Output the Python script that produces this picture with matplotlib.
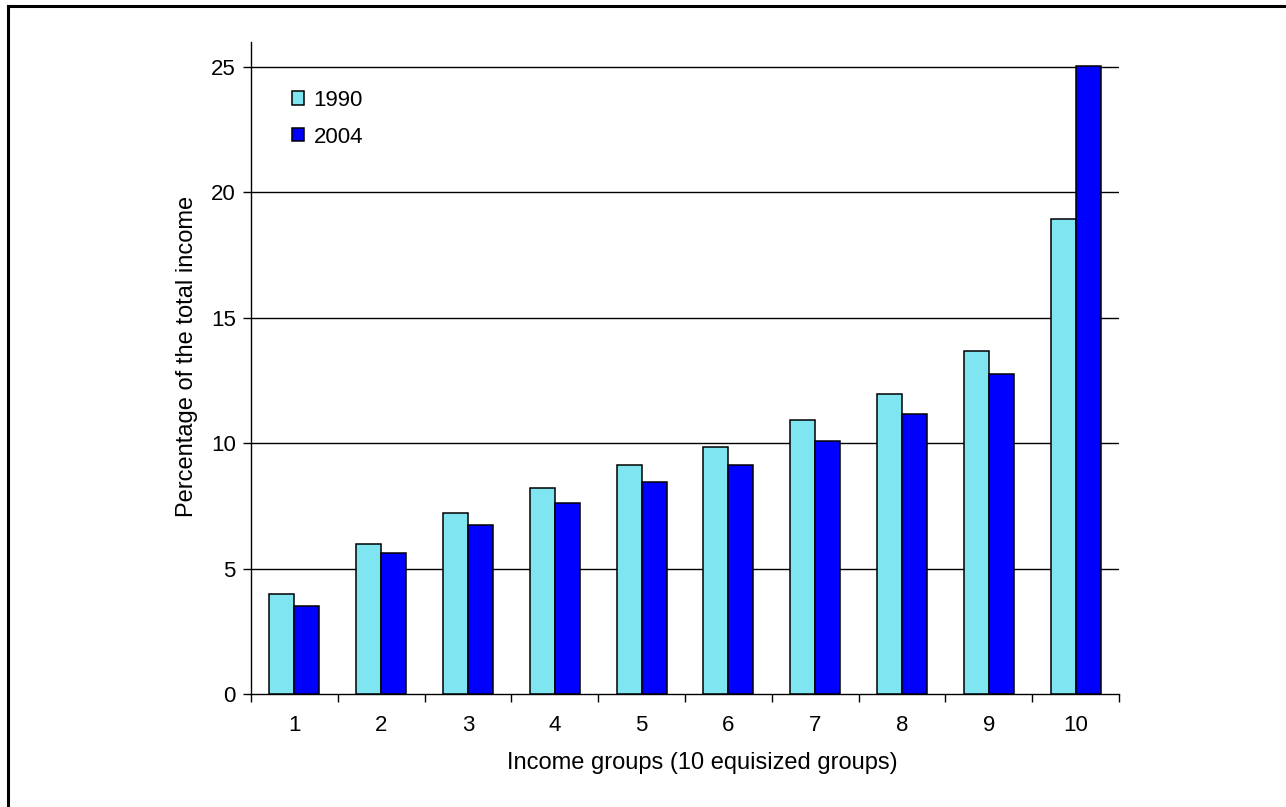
import numpy as np
import matplotlib.pyplot as plt
from matplotlib.lines import Line2D

plt.rcParams['font.family'] = ['Liberation Sans', 'DejaVu Sans']

groups = ['1', '2', '3', '4', '5', '6', '7', '8', '9', '10']
share_1990 = [4.0, 5.99, 7.22, 8.22, 9.14, 9.84, 10.92, 11.98, 13.66, 18.95]
share_2004 = [3.53, 5.61, 6.76, 7.61, 8.45, 9.15, 10.08, 11.15, 12.75, 25.05]
series_names = ['1990', '2004']

fig = plt.figure(figsize=(12.86, 8.07), dpi=100)
ax = fig.add_axes([251 / 1286, 1 - 694.3 / 807, 868 / 1286, 652.6 / 807])

x = np.arange(len(groups))
w = 0.288
ax.bar(x - w / 2, share_1990, w, color='#7fe5f0', edgecolor='black',
       linewidth=1.1, label=series_names[0], zorder=3)
ax.bar(x + w / 2, share_2004, w, color='#0000ff', edgecolor='black',
       linewidth=1.1, label=series_names[1], zorder=3)

ax.set_xlim(-0.5, len(groups) - 0.5)
ax.set_ylim(0, 26)
ax.set_yticks(np.arange(0, 26, 5))
ax.set_xticks(x)
ax.set_xticklabels(groups)
ax.set_xticks(np.arange(-0.5, len(groups), 1.0), minor=True)
ax.tick_params(axis='x', which='major', length=0, labelsize=16, pad=15)
ax.tick_params(axis='x', which='minor', length=6, width=1, direction='out')
ax.tick_params(axis='y', length=6, width=1, labelsize=16, pad=5)

for v in np.arange(5, 26, 5):
    ax.axhline(v, color='black', linewidth=1.0, zorder=1)

for s in ['top', 'right']:
    ax.spines[s].set_visible(False)
for s in ['left', 'bottom']:
    ax.spines[s].set_linewidth(1.0)

ax.set_xlabel('Income groups (10 equisized groups)', fontsize=17, labelpad=11.5)
ax.set_ylabel('Percentage of the total income', fontsize=17, labelpad=9)
ax.xaxis.label.set_x(0.5196)
ax.yaxis.label.set_y(0.518)

ax.legend(loc='upper left', bbox_to_anchor=(0.047, 0.926), frameon=False,
          fontsize=16, handlelength=0.55, handleheight=0.55,
          handletextpad=0.43, labelspacing=0.7, borderaxespad=0, borderpad=0)

# outer frame (only top and left edges show in the reference)
fig.add_artist(Line2D([8 / 1286, 8 / 1286], [0, 1 - 6 / 807], color='black',
                      linewidth=2.2, transform=fig.transFigure))
fig.add_artist(Line2D([8 / 1286, 1], [1 - 6 / 807, 1 - 6 / 807], color='black',
                      linewidth=2.2, transform=fig.transFigure))

fig.savefig('out.png', dpi=100)
